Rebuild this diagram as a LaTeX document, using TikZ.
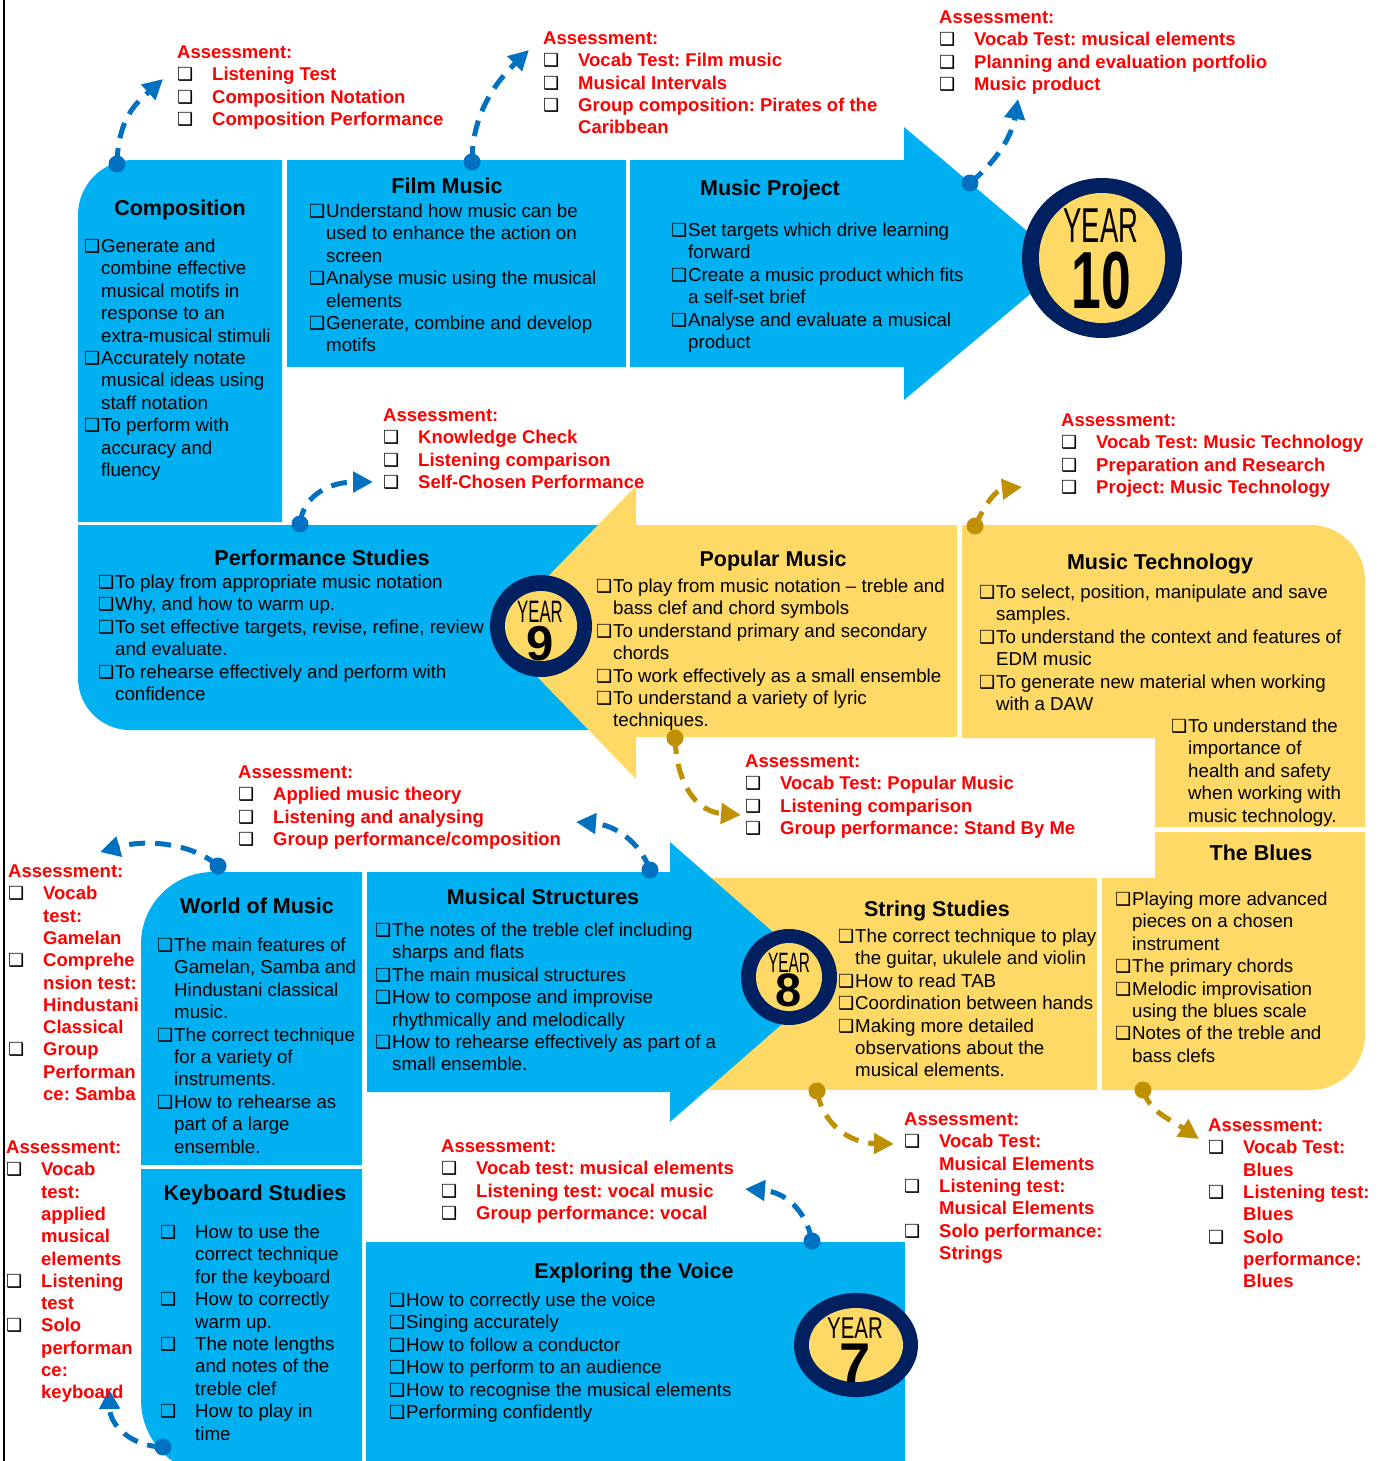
\documentclass[tikz,border=0pt]{standalone}
\usepackage{fontspec}
\usepackage{graphicx}
\setmainfont{Liberation Sans}
\newfontfamily\symf{DejaVu Sans}
\usetikzlibrary{arrows.meta,shapes.geometric}
\definecolor{boxblue}{HTML}{00B0F0}
\definecolor{boxyellow}{HTML}{FFD966}
\definecolor{navy}{HTML}{002060}
\definecolor{linkblue}{HTML}{0070C0}
\definecolor{linkgold}{HTML}{BF9000}
\definecolor{assred}{HTML}{FF0000}
\newcommand\cb{{\color{black}\symf\fontsize{18}{18}\selectfont ❑}}
\newcommand\itm[1]{\makebox[16pt][l]{\kern-1pt\cb}\begin{tabular}[t]{@{}l@{}}#1\end{tabular}}
\newcommand\aitm[1]{\makebox[35pt][l]{\cb}\begin{tabular}[t]{@{}l@{}}#1\end{tabular}}
\newcommand\lst[1]{\begin{tabular}[t]{@{}l@{}}#1\end{tabular}}
\newcommand\yr[5]{\makebox[0pt]{\scalebox{#1}[1]{\fontsize{#2}{#2}\selectfont YEAR}}\makebox[0pt]{\raisebox{-#3pt}{\fontsize{#4}{#4}\selectfont\bfseries\scalebox{#5}[1]{\yrnum}}}}
\frenchspacing
\begin{document}
\begin{tikzpicture}[x=1pt,y=-1pt,
  bodytxt/.style={anchor=base west, inner sep=0pt, font=\frenchspacing\fontsize{18.7}{22.4}\selectfont, text=black},
  hd/.style={anchor=base, inner sep=0pt, font=\fontsize{21.5}{24}\selectfont\bfseries, text=black},
  asstxt/.style={anchor=base west, inner sep=0pt, font=\frenchspacing\fontsize{18.5}{22.3}\selectfont\bfseries, text=assred},
  conn/.style={line width=5pt, dash pattern=on 16pt off 10pt, -{Triangle[length=20pt,width=20pt]}},
  cdot/.style={circle, inner sep=0pt, minimum size=17pt},
  yrtxt/.style={anchor=base, inner sep=0pt, text=black},
  ring/.style={circle, fill=navy, inner sep=0pt}
]
\useasboundingbox (0,0) rectangle (1383,1461);
\fill[white] (0,0) rectangle (1383,1461);
\draw[line width=2pt] (4,0) -- (4,1461);

% ---------- top row ----------
\fill[boxblue] (78,522) -- (78,215) .. controls (78,184.6) and (102.6,160) .. (133,160) -- (282,160) -- (282,522) -- cycle;
\fill[boxblue] (287,160) rectangle (626,367);
\fill[boxblue] (630,160) -- (904,160) -- (904,127) -- (1066,264) -- (904,400) -- (904,367) -- (630,367) -- cycle;
\node[ring, minimum size=160pt] (y10) at (1102,258) {};
\fill[boxyellow] (y10.center) ellipse[x radius=63pt, y radius=65pt];

% ---------- middle row ----------
\fill[boxblue] (78,525) -- (625,525) -- (625,730) -- (130,730) .. controls (101.3,730) and (78,706.7) .. (78,678) -- cycle;
\fill[boxyellow] (957,525) -- (636,525) -- (636,486) -- (494,632) -- (636,779) -- (636,737) -- (957,737) -- cycle;
\fill[boxyellow] (962,525) -- (1310,525) .. controls (1340.4,525) and (1365,549.6) .. (1365,580) -- (1365,827) -- (1155,827) -- (1155,738) -- (962,738) -- cycle;
\node[ring, minimum size=102pt] (y9) at (541,626) {};
\fill[boxyellow] (y9.center) ellipse[x radius=36pt, y radius=35pt];

% ---------- lower middle ----------
\fill[boxyellow] (1155,832) -- (1365,832) -- (1365,1035) .. controls (1365,1065.4) and (1340.4,1090) .. (1310,1090) -- (1102,1090) -- (1102,878) -- (1155,878) -- cycle;
\fill[boxyellow] (700,878) rectangle (1097,1090);
\fill[boxblue] (367,872) -- (670,872) -- (670,842) -- (830,982) -- (670,1122) -- (670,1092) -- (367,1092) -- cycle;
\node[ring, minimum size=96pt] (y8) at (789,977) {};
\fill[boxyellow] (y8.center) ellipse[x radius=33pt, y radius=34pt];

% ---------- bottom ----------
\fill[boxblue] (141,1165) -- (141,944) .. controls (141,904.3) and (173.3,872) .. (213,872) -- (362,872) -- (362,1165) -- cycle;
\fill[boxblue] (141,1169) -- (362,1169) -- (362,1475) -- (216,1475) .. controls (174.6,1475) and (141,1441.4) .. (141,1400) -- cycle;
\fill[boxblue] (366,1242) rectangle (905,1475);
\node[ellipse, fill=navy, inner sep=0pt, minimum width=124pt, minimum height=104pt] (y7) at (856,1345) {};
\fill[boxyellow] (y7.center) ellipse[x radius=47pt, y radius=37pt];

% ---------- year labels ----------
\def\yrnum{10}\node[yrtxt] (y10t) at (1101,242) {\yr{0.56}{49}{66}{81}{0.66}};
\def\yrnum{9}\node[yrtxt] (y9t) at (540,622) {\yr{0.54}{31}{38}{49}{1}};
\def\yrnum{8}\node[yrtxt] (y8t) at (789,972) {\yr{0.55}{28}{34}{47}{1}};
\def\yrnum{7}\node[yrtxt] (y7t) at (855,1338) {\yr{0.68}{30}{44}{56}{1}};

% ---------- connectors ----------
\node[cdot, fill=linkblue] (c1) at (117,164) {};
\coordinate (e1) at (163,79);
\draw[conn, linkblue] (c1.center) .. controls (118,115) and (140,100) .. (e1);
\node[cdot, fill=linkblue] (c2) at (472,162) {};
\coordinate (e2) at (529,50);
\draw[conn, linkblue] (c2.center) .. controls (472,110) and (500,78) .. (e2);
\node[cdot, fill=linkblue] (c3) at (970,183) {};
\coordinate (e3) at (1018,99);
\draw[conn, linkblue] (c3.center) .. controls (998,160) and (1012,135) .. (e3);
\node[cdot, fill=linkblue] (c4) at (300,524) {};
\coordinate (e4) at (373,482);
\draw[conn, linkblue] (c4.center) .. controls (303,495) and (330,482) .. (e4);
\node[cdot, fill=linkgold] (c5) at (975,526) {};
\coordinate (e5) at (1022,487);
\draw[conn, linkgold] (c5.center) .. controls (985,505) and (995,490) .. (e5);
\node[cdot, fill=linkgold] (c6) at (675,738) {};
\coordinate (e6) at (741,815);
\draw[conn, linkgold] (c6.center) .. controls (677,790) and (700,812) .. (e6);
\node[cdot, fill=linkblue] (c7) at (650,870) {};
\coordinate (e7) at (576,822);
\draw[conn, linkblue] (c7.center) .. controls (640,842) and (615,825) .. (e7);
\node[cdot, fill=linkblue] (c8) at (218,866) {};
\coordinate (e8) at (100,852);
\draw[conn, linkblue] (c8.center) .. controls (195,845) and (150,838) .. (e8);
\node[cdot, fill=linkblue] (c9) at (163,1447) {};
\coordinate (e9) at (109,1389);
\draw[conn, linkblue] (c9.center) .. controls (130,1446) and (110,1425) .. (e9);
\node[cdot, fill=linkblue] (c10) at (812,1241) {};
\coordinate (e10) at (745,1189);
\draw[conn, linkblue] (c10.center) .. controls (806,1210) and (785,1192) .. (e10);
\node[cdot, fill=linkgold] (c11) at (817,1091) {};
\coordinate (e11) at (894,1144);
\draw[conn, linkgold] (c11.center) .. controls (823,1125) and (850,1143) .. (e11);
\node[cdot, fill=linkgold] (c12) at (1143,1090) {};
\coordinate (e12) at (1199,1139);
\draw[conn, linkgold] (c12.center) .. controls (1150,1112) and (1168,1118) .. (e12);

% ---------- headings ----------
\node[hd] (h1) at (180,215.5) {Composition};
\node[hd] (h2) at (447,193.5) {Film Music};
\node[hd] (h3) at (770,195.5) {Music Project};
\node[hd] (h4) at (322,565.5) {Performance Studies};
\node[hd] (h5) at (773,566.5) {Popular Music};
\node[hd] (h6) at (1160,569.5) {Music Technology};
\node[hd] (h7) at (1261,860.5) {The Blues};
\node[hd] (h8) at (937,916.5) {String Studies};
\node[hd] (h9) at (543,904.5) {Musical Structures};
\node[hd] (h10) at (257,913.5) {World of Music};
\node[hd] (h11) at (255,1200.5) {Keyboard Studies};
\node[hd] (h12) at (634,1278.5) {Exploring the Voice};

% ---------- box texts ----------
\node[bodytxt] (b1) at (85,252.5) {\lst{%
\itm{Generate and\\combine effective\\musical motifs in\\response to an\\extra-musical stimuli}\\
\itm{Accurately notate\\musical ideas using\\staff notation}\\
\itm{To perform with\\accuracy and\\fluency}}};
\node[bodytxt] (b2) at (310,217.5) {\lst{%
\itm{Understand how music can be\\used to enhance the action on\\screen}\\
\itm{Analyse music using the musical\\elements}\\
\itm{Generate, combine and develop\\motifs}}};
\node[bodytxt] (b3) at (672,236.5) {\lst{%
\itm{Set targets which drive learning\\forward}\\
\itm{Create a music product which fits\\a self-set brief}\\
\itm{Analyse and evaluate a musical\\product}}};
\node[bodytxt] (b4) at (99,588.5) {\lst{%
\itm{To play from appropriate music notation}\\
\itm{Why, and how to warm up.}\\
\itm{To set effective targets, revise, refine, review\\and evaluate.}\\
\itm{To rehearse effectively and perform with\\confidence}}};
\node[bodytxt] (b5) at (597,592.5) {\lst{%
\itm{To play from music notation – treble and\\bass clef and chord symbols}\\
\itm{To understand primary and secondary\\chords}\\
\itm{To work effectively as a small ensemble}\\
\itm{To understand a variety of lyric\\techniques.}}};
\node[bodytxt] (b6) at (980,598.5) {\lst{%
\itm{To select, position, manipulate and save\\samples.}\\
\itm{To understand the context and features of\\EDM music}\\
\itm{To generate new material when working\\with a DAW}}};
\node[bodytxt] (b7) at (1172,732.5) {\lst{%
\itm{To understand the\\importance of\\health and safety\\when working with\\music technology.}}};
\node[bodytxt] (b8) at (1116,905.5) {\lst{%
\itm{Playing more advanced\\pieces on a chosen\\instrument}\\
\itm{The primary chords}\\
\itm{Melodic improvisation\\using the blues scale}\\
\itm{Notes of the treble and\\bass clefs}}};
\node[bodytxt] (b9) at (839,942.5) {\lst{%
\itm{The correct technique to play\\the guitar, ukulele and violin}\\
\itm{How to read TAB}\\
\itm{Coordination between hands}\\
\itm{Making more detailed\\observations about the\\musical elements.}}};
\node[bodytxt] (b10) at (376,936.5) {\lst{%
\itm{The notes of the treble clef including\\sharps and flats}\\
\itm{The main musical structures}\\
\itm{How to compose and improvise\\rhythmically and melodically}\\
\itm{How to rehearse effectively as part of a\\small ensemble.}}};
\node[bodytxt] (b11) at (158,951.5) {\lst{%
\itm{The main features of\\Gamelan, Samba and\\Hindustani classical\\music.}\\
\itm{The correct technique\\for a variety of\\instruments.}\\
\itm{How to rehearse as\\part of a large\\ensemble.}}};
\node[bodytxt] (b12) at (160,1238.5) {\lst{%
\aitm{How to use the\\correct technique\\for the keyboard}\\
\aitm{How to correctly\\warm up.}\\
\aitm{The note lengths\\and notes of the\\treble clef}\\
\aitm{How to play in\\time}}};
\node[bodytxt] (b13) at (390,1306.5) {\lst{%
\itm{How to correctly use the voice}\\
\itm{Singing accurately}\\
\itm{How to follow a conductor}\\
\itm{How to perform to an audience}\\
\itm{How to recognise the musical elements}\\
\itm{Performing confidently}}};

% ---------- assessments ----------
\node[asstxt] (a1) at (177,58.5) {\lst{Assessment:\\
\aitm{Listening Test}\\\aitm{Composition Notation}\\\aitm{Composition Performance}}};
\node[asstxt] (a2) at (543,44.5) {\lst{Assessment:\\
\aitm{Vocab Test: Film music}\\\aitm{Musical Intervals}\\\aitm{Group composition: Pirates of the\\Caribbean}}};
\node[asstxt] (a3) at (939,23.5) {\lst{Assessment:\\
\aitm{Vocab Test: musical elements}\\\aitm{Planning and evaluation portfolio}\\\aitm{Music product}}};
\node[asstxt] (a4) at (383,421.5) {\lst{Assessment:\\
\aitm{Knowledge Check}\\\aitm{Listening comparison}\\\aitm{Self-Chosen Performance}}};
\node[asstxt] (a5) at (1061,426.5) {\lst{Assessment:\\
\aitm{Vocab Test: Music Technology}\\\aitm{Preparation and Research}\\\aitm{Project: Music Technology}}};
\node[asstxt] (a6) at (745,767.5) {\lst{Assessment:\\
\aitm{Vocab Test: Popular Music}\\\aitm{Listening comparison}\\\aitm{Group performance: Stand By Me}}};
\node[asstxt] (a7) at (238,778.5) {\lst{Assessment:\\
\aitm{Applied music theory}\\\aitm{Listening and analysing}\\\aitm{Group performance/composition}}};
\node[asstxt] (a8) at (8,877.5) {\lst{Assessment:\\
\aitm{Vocab\\test:\\Gamelan}\\\aitm{Comprehe\\nsion test:\\Hindustani\\Classical}\\\aitm{Group\\Performan\\ce: Samba}}};
\node[asstxt] (a9) at (6,1153.5) {\lst{Assessment:\\
\aitm{Vocab\\test:\\applied\\musical\\elements}\\\aitm{Listening\\test}\\\aitm{Solo\\performan\\ce:\\keyboard}}};
\node[asstxt] (a10) at (441,1152.5) {\lst{Assessment:\\
\aitm{Vocab test: musical elements}\\\aitm{Listening test: vocal music}\\\aitm{Group performance: vocal}}};
\node[asstxt] (a11) at (904,1125.5) {\lst{Assessment:\\
\aitm{Vocab Test:\\Musical Elements}\\\aitm{Listening test:\\Musical Elements}\\\aitm{Solo performance:\\Strings}}};
\node[asstxt] (a12) at (1208,1131.5) {\lst{Assessment:\\
\aitm{Vocab Test:\\Blues}\\\aitm{Listening test:\\Blues}\\\aitm{Solo\\performance:\\Blues}}};
\end{tikzpicture}
\end{document}
